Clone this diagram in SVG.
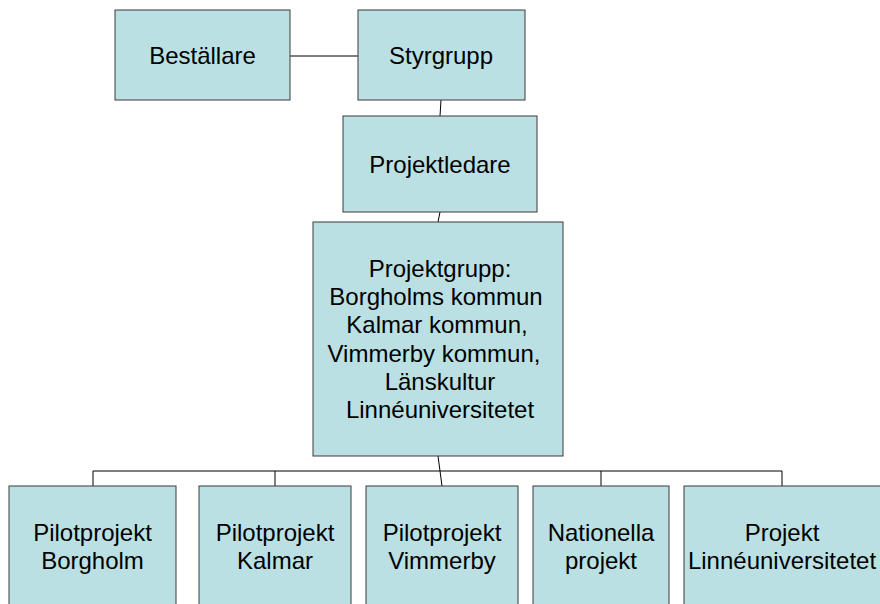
<svg xmlns="http://www.w3.org/2000/svg" width="880" height="604" viewBox="0 0 880 604">
<style>
.box{fill:#BBE0E3;stroke:#3a3a3a;stroke-width:1}
.t{font-family:"Liberation Sans",Arial,sans-serif;font-size:24px;fill:#000;text-anchor:middle}
.c{fill:none;stroke:#000;stroke-width:1}
</style>
<rect width="880" height="604" fill="#fff"/>
<g id="connectors">
<line class="c" x1="290" y1="56" x2="358" y2="56"/>
<line class="c" x1="441" y1="100" x2="440" y2="116"/>
<line class="c" x1="440" y1="212" x2="438" y2="222"/>
<line class="c" x1="438" y1="456" x2="442" y2="486"/>
<polyline class="c" points="93,486 93,471 782,471 782,486"/>
<line class="c" x1="275" y1="471" x2="275" y2="486"/>
<line class="c" x1="601" y1="471" x2="601" y2="486"/>
</g>
<g id="bestallare"><rect class="box" x="115" y="10" width="175" height="90"/><text class="t" x="202.5" y="64">Beställare</text></g>
<g id="styrgrupp"><rect class="box" x="358" y="10" width="167" height="90"/><text class="t" x="441" y="64">Styrgrupp</text></g>
<g id="projektledare"><rect class="box" x="343" y="116" width="194" height="96"/><text class="t" x="440" y="173">Projektledare</text></g>
<g id="projektgrupp"><rect class="box" x="313" y="222" width="250" height="234"/>
<text class="t" x="440" y="277">Projektgrupp:</text>
<text class="t" x="436" y="305">Borgholms kommun</text>
<text class="t" x="437" y="333">Kalmar kommun,</text>
<text class="t" x="434" y="362">Vimmerby kommun,</text>
<text class="t" x="440" y="390">Länskultur</text>
<text class="t" x="440" y="418">Linnéuniversitetet</text>
</g>
<g id="pilot-borgholm"><rect class="box" x="9" y="486" width="167" height="130"/><text class="t" x="92.5" y="541">Pilotprojekt</text><text class="t" x="92.5" y="569">Borgholm</text></g>
<g id="pilot-kalmar"><rect class="box" x="199" y="486" width="152" height="130"/><text class="t" x="275" y="541">Pilotprojekt</text><text class="t" x="275" y="569">Kalmar</text></g>
<g id="pilot-vimmerby"><rect class="box" x="366" y="486" width="152" height="130"/><text class="t" x="442" y="541">Pilotprojekt</text><text class="t" x="442" y="569">Vimmerby</text></g>
<g id="nationella"><rect class="box" x="533" y="486" width="136" height="130"/><text class="t" x="601" y="541">Nationella</text><text class="t" x="601" y="569">projekt</text></g>
<g id="projekt-lnu"><rect class="box" x="684" y="486" width="210" height="130"/><text class="t" x="782" y="541">Projekt</text><text class="t" x="782" y="569">Linnéuniversitetet</text></g>
</svg>
